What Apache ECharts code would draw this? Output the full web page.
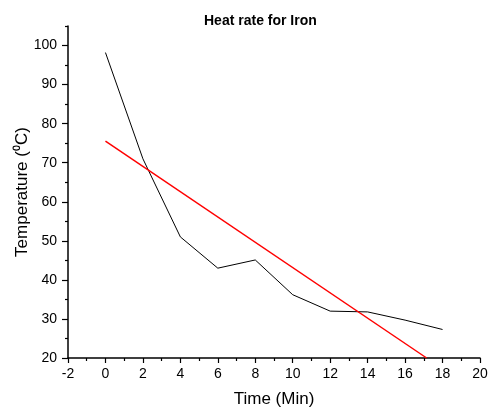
<!DOCTYPE html>
<html><head><meta charset="utf-8">
<script src="https://cdn.jsdelivr.net/npm/echarts@6/dist/echarts.min.js"></script>
<style>html,body{margin:0;padding:0;background:#fff}#c{width:488px;height:408px}</style>
</head><body><div id="c"></div>
<script>
var titleText = 'Heat rate for Iron';
var xName = 'Time (Min)';
var yName = 'Temperature (\u2070C)';
var timeMin = [0, 2, 4, 6, 8, 10, 12, 14, 16, 18];
var temperature = [98.2, 71, 51, 43, 45.1, 36.2, 32, 31.8, 29.7, 27.3];
var fitX = [0, 17.15];
var fitY = [75.5, 20];
var yMajorTicks = [20, 30, 40, 50, 60, 70, 80, 90, 100];
var yMinorTicks = [25, 35, 45, 55, 65, 75, 85, 95, 105];

var font = 'Arial, "Liberation Sans", sans-serif';
var chart = echarts.init(document.getElementById('c'), null, {renderer: 'canvas'});
chart.setOption({
  animation: false,
  backgroundColor: '#fff',
  title: {text: titleText, left: 204, top: 14, padding: 0,
    textStyle: {fontFamily: font, fontSize: 14, fontWeight: 'bold', color: '#000'}},
  grid: {left: 68, right: 8, top: 26, bottom: 50, containLabel: false, outerBoundsMode: 'none'},
  xAxis: {
    type: 'value', min: -2, max: 20, interval: 2,
    name: xName, nameLocation: 'middle', nameGap: 33, nameMoveOverlap: false,
    nameTextStyle: {fontFamily: font, fontSize: 17, color: '#000'},
    axisLine: {show: true, onZero: false, lineStyle: {color: '#000', width: 1.5}},
    axisTick: {show: true, inside: false, length: 5, lineStyle: {color: '#000', width: 1.2}},
    minorTick: {show: true, splitNumber: 2, length: 3, lineStyle: {color: '#000', width: 1.2}},
    axisLabel: {fontFamily: font, fontSize: 14, color: '#000', margin: 9},
    splitLine: {show: false}
  },
  yAxis: [{
    type: 'value', min: 20, max: 105, interval: 10,
    name: yName, nameLocation: 'middle', nameGap: 37, nameMoveOverlap: false,
    nameTextStyle: {fontFamily: font, fontSize: 17, color: '#000'},
    axisLine: {show: true, onZero: false, lineStyle: {color: '#000', width: 1.5}},
    axisTick: {show: true, inside: false, length: 6, customValues: yMajorTicks, lineStyle: {color: '#000', width: 1.2}},
    axisLabel: {fontFamily: font, fontSize: 14, color: '#000', margin: 11, customValues: yMajorTicks},
    splitLine: {show: false}
  }, {
    type: 'value', min: 20, max: 105, interval: 5, position: 'left',
    axisLine: {show: false, onZero: false},
    axisTick: {show: true, inside: false, length: 3, customValues: yMinorTicks, lineStyle: {color: '#000', width: 1.2}},
    axisLabel: {show: false},
    splitLine: {show: false}
  }],
  series: [{
    type: 'line', yAxisIndex: 0,
    data: timeMin.map(function (x, i) { return [x, temperature[i]]; }),
    showSymbol: false, lineStyle: {color: '#000', width: 1}, itemStyle: {color: '#000'}
  }, {
    type: 'line', yAxisIndex: 0,
    data: fitX.map(function (x, i) { return [x, fitY[i]]; }),
    showSymbol: false, lineStyle: {color: '#ff0000', width: 1.5}, itemStyle: {color: '#ff0000'}
  }]
});
</script></body></html>
